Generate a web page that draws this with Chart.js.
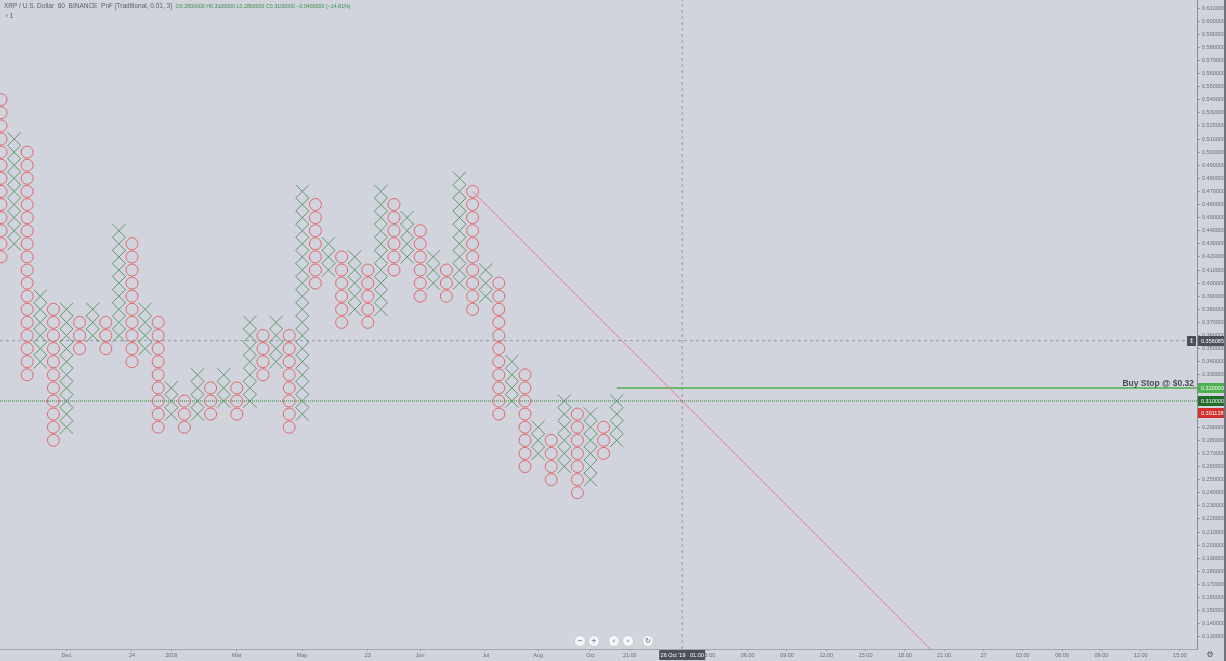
<!DOCTYPE html>
<html><head><meta charset="utf-8">
<script src="https://cdn.jsdelivr.net/npm/chart.js@4/dist/chart.umd.min.js"></script>
<style>
html,body{margin:0;padding:0;background:#d1d4dc;overflow:hidden}
#wrap{position:relative;width:1226px;height:661px}
canvas{display:block}
#hdr{position:absolute;left:4px;top:1px;font:6.5px "Liberation Sans",Arial,sans-serif;color:#5d606b;white-space:pre;line-height:9px}
#hdr .v{color:#3e8e4e;font-size:5.3px}
</style></head>
<body><div id="wrap"><canvas id="c" width="1226" height="661"></canvas>
<div id="hdr">XRP / U.S. Dollar  60  BINANCE  PnF [Traditional, 0.01, 3]  <span class="v">O0.2800000 H0.3100000 L0.2800000 C0.3100000 −0.0400000 (−14.81%)</span>
 › 1</div></div>
<script>
// ---- data ----
const colType = ['O','X','O','X','O','X','O','X','O','X','O','X','O','X','O','X','O','X','O','X','O','X','O','X',
                 'O','X','O','X','O','X','O','X','O','X','O','X','O','X','O','X','O','X','O','X','O','X','O','X'];
const colLow  = [0.42,0.43,0.33,0.34,0.28,0.29,0.35,0.36,0.35,0.36,0.34,0.35,0.29,0.30,0.29,0.30,0.30,0.31,0.30,0.31,0.33,0.34,0.29,0.30,
                 0.40,0.41,0.37,0.38,0.37,0.38,0.41,0.42,0.39,0.40,0.39,0.40,0.38,0.39,0.30,0.31,0.26,0.27,0.25,0.26,0.24,0.25,0.27,0.28];
const colHigh = [0.54,0.51,0.50,0.39,0.38,0.38,0.37,0.38,0.37,0.44,0.43,0.38,0.37,0.32,0.31,0.33,0.32,0.33,0.32,0.37,0.36,0.37,0.36,0.47,
                 0.46,0.43,0.42,0.42,0.41,0.47,0.46,0.45,0.44,0.42,0.41,0.48,0.47,0.41,0.40,0.34,0.33,0.29,0.28,0.31,0.30,0.30,0.29,0.31];
const boxSize = 0.01;
const xTickCols   = [5,10,13,18,23,28,32,37,41,45,48,54,57,60,63,66,69,72,75,78,81,84,87,90];
const xTickLabels = ['Dec','24','2019','Mar','May','23','Jun','Jul','Aug','Oct','21:00','03:00','06:00','09:00','12:00','15:00','18:00','21:00','27','03:00','06:00','09:00','12:00','15:00'];
const trendStart = {x:36, y:0.47};
const trendSlope = -0.01;          // price per column
const buyStop = 0.32, buyStopCol = 47;
const lastPrice = 0.31;
const crossPrice = 0.3560854, crossCol = 52;
const currentPrice = 0.3011287;

// ---- scale geometry ----
const xMin = -0.0763, xMax = 91.298;
const yMin = 0.12069, yMax = 0.616107;

const oPts = [], xPts = [];
colType.forEach((t,i)=>{
  const n = Math.round((colHigh[i]-colLow[i])/boxSize);
  for(let k=0;k<=n;k++){
    const p = {x:i, y:+(colLow[i]+k*boxSize).toFixed(2)};
    (t==='O'?oPts:xPts).push(p);
  }
});
const labelMap = {}; xTickCols.forEach((c,i)=>labelMap[c]=xTickLabels[i]);

const deco = {
  id:'deco',
  beforeDraw(ch){
    const c=ch.ctx; c.save(); c.fillStyle='#d1d4dc'; c.fillRect(0,0,ch.width,ch.height); c.restore();
  },
  afterDraw(ch){
    const c=ch.ctx, ys=ch.scales.y, xs=ch.scales.x, a=ch.chartArea;
    c.save();
    // Buy stop text
    const yb = ys.getPixelForValue(buyStop);
    c.font='bold 8.5px "Liberation Sans"'; c.fillStyle='#4a4d57'; c.textAlign='right'; c.textBaseline='alphabetic';
    c.fillText('Buy Stop @ $0.32', a.right-3, yb-2);
    // axis tags
    function tag(v, txt, bg, fg){
      const y = ys.getPixelForValue(v);
      c.fillStyle=bg; c.fillRect(a.right+1, Math.round(y)-5, 26, 10);
      c.fillStyle=fg; c.font='5.5px "Liberation Sans"'; c.textAlign='left'; c.textBaseline='middle';
      c.fillText(txt, a.right+4, y+0.5);
    }
    tag(crossPrice,'0.3560854','#4c505b','#ffffff');
    tag(buyStop,'0.3200000','#4caf50','#ffffff');
    tag(lastPrice,'0.3100000','#1f6b2c','#ffffff');
    tag(currentPrice,'0.3011287','#d32f2f','#ffffff');
    // crosshair icon box
    const yc = ys.getPixelForValue(crossPrice);
    c.fillStyle='#4c505b'; c.fillRect(a.right-10, Math.round(yc)-5, 9, 10);
    c.fillStyle='#ffffff'; c.font='6px "DejaVu Sans"'; c.textAlign='center'; c.fillText('↕', a.right-5.5, yc+0.5);
    // x crosshair tooltip
    const xc = xs.getPixelForValue(crossCol);
    c.fillStyle='#4c505b'; c.fillRect(xc-23, a.bottom+1, 46, 10);
    c.fillStyle='#ffffff'; c.font='5.5px "Liberation Sans"'; c.textAlign='center'; c.textBaseline='middle';
    c.fillText("26 Oct '19   01:00", xc, a.bottom+6);
    // nav buttons
    const btns=[[580,'−'],[594,'+'],[614,'‹'],[628,'›'],[648,'↻']];
    btns.forEach(([bx,s])=>{
      c.beginPath(); c.arc(bx,641,5.5,0,Math.PI*2); c.fillStyle='#f4f5f7'; c.fill();
      c.strokeStyle='#b8bbc4'; c.lineWidth=0.6; c.stroke();
      c.fillStyle='#50535e'; c.font='7px "DejaVu Sans"'; c.textAlign='center'; c.textBaseline='middle';
      c.fillText(s,bx,641.5);
    });
    // gear
    c.fillStyle='#50535e'; c.font='8px "DejaVu Sans"'; c.textAlign='center'; c.textBaseline='middle';
    c.fillText('⚙', 1210, 655);
    // right edge strip
    c.fillStyle='#70737d'; c.fillRect(1224,0,2,661);
    c.restore();
  }
};

new Chart(document.getElementById('c'), {
  type:'scatter',
  data:{datasets:[
    {data:[trendStart,{x:xMax,y:trendStart.y+trendSlope*(xMax-trendStart.x)}], showLine:true, borderColor:'rgba(240,105,135,0.85)', borderWidth:1, pointRadius:0},
    {data:oPts, pointStyle:'circle', pointRadius:6, borderColor:'rgba(226,92,98,0.9)', backgroundColor:'rgba(0,0,0,0)', pointBorderWidth:1, borderWidth:1},
    {data:xPts, pointStyle:'crossRot', pointRadius:9.3, borderColor:'rgba(78,140,92,0.85)', backgroundColor:'rgba(0,0,0,0)', pointBorderWidth:1, borderWidth:1},
    {data:[{x:buyStopCol,y:buyStop},{x:xMax,y:buyStop}], showLine:true, borderColor:'#4caf50', borderWidth:1.5, pointRadius:0},
    {data:[{x:xMin,y:lastPrice},{x:xMax,y:lastPrice}], showLine:true, borderColor:'#2e7d32', borderWidth:1, borderDash:[1,1], pointRadius:0},
    {data:[{x:xMin,y:crossPrice},{x:xMax,y:crossPrice}], showLine:true, borderColor:'rgba(140,145,165,0.9)', borderWidth:1, borderDash:[3,3], pointRadius:0},
    {data:[{x:crossCol,y:yMin},{x:crossCol,y:yMax}], showLine:true, borderColor:'rgba(140,145,165,0.9)', borderWidth:1, borderDash:[3,3], pointRadius:0}
  ]},
  options:{
    responsive:false, animation:false, devicePixelRatio:1,
    layout:{padding:0, autoPadding:false},
    plugins:{legend:{display:false}, tooltip:{enabled:false}},
    scales:{
      x:{type:'linear', position:'bottom', min:xMin, max:xMax,
         grid:{display:true, drawOnChartArea:false, drawTicks:true, tickLength:2, color:'#9598a1'},
         border:{display:true, color:'#a3a6af'},
         afterBuildTicks(s){ s.ticks = xTickCols.map(v=>({value:v})); },
         afterFit(s){ s.height = 12; s.paddingLeft = 0; s.paddingRight = 0; },
         ticks:{autoSkip:false, maxRotation:0, padding:1, color:'#6a6d78', font:{size:5.5, family:'"Liberation Sans"'},
                callback:(v)=> labelMap[v]!==undefined ? labelMap[v] : ''}},
      y:{type:'linear', position:'right', min:yMin, max:yMax,
         grid:{display:true, drawOnChartArea:false, drawTicks:true, tickLength:3, color:'#9598a1'},
         border:{display:true, color:'#8a8d96'},
         afterFit(s){ s.width = 29; s.paddingTop = 0; s.paddingBottom = 0; },
         ticks:{stepSize:0.01, includeBounds:false, autoSkip:false, maxTicksLimit:200, padding:2, color:'#6a6d78',
                font:{size:5.5, family:'"Liberation Sans"'}, callback:(v)=> (+v).toFixed(7)}}
    }
  },
  plugins:[deco]
});
</script>
</body></html>
